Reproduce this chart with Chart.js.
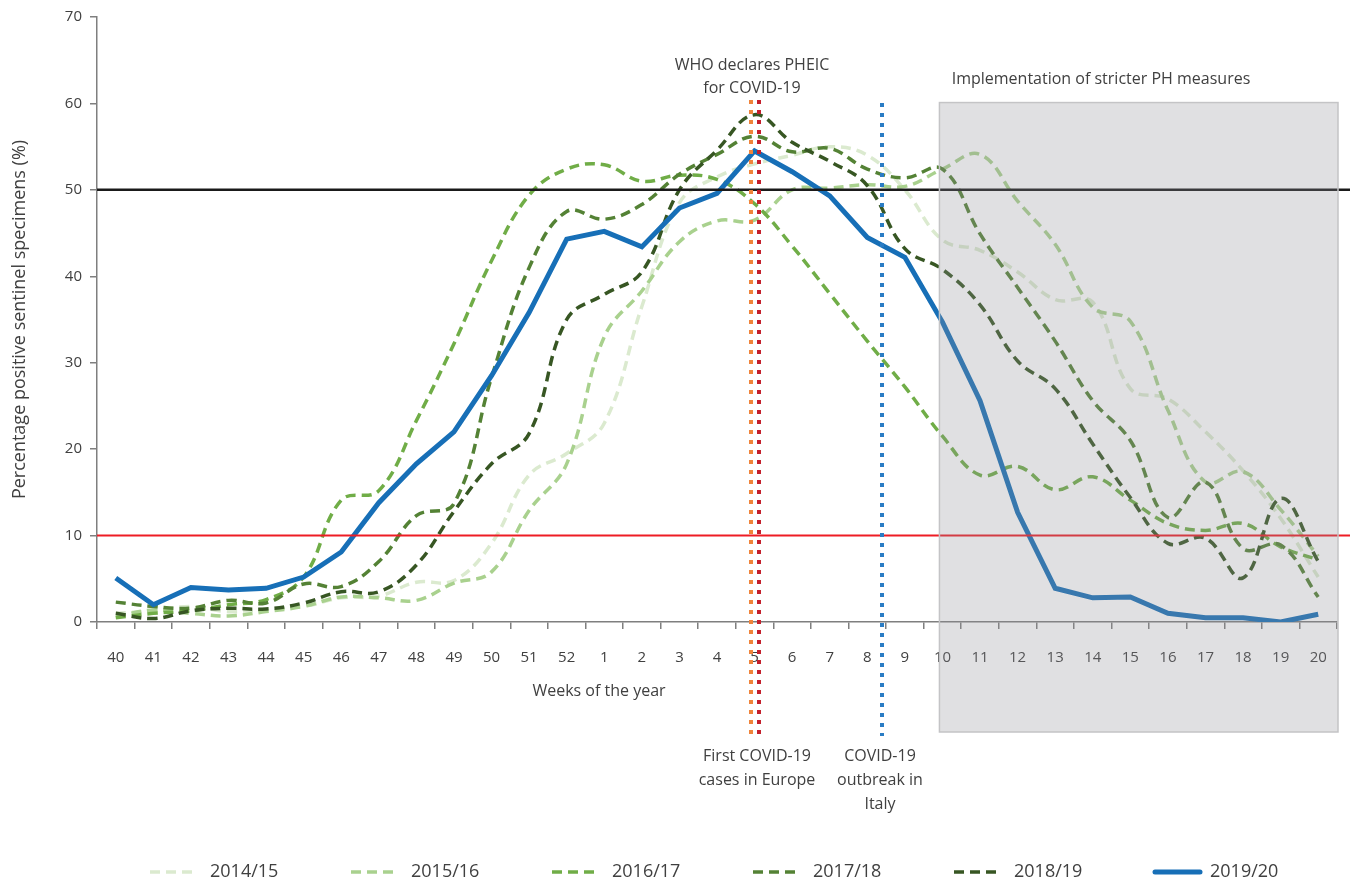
<!DOCTYPE html>
<html>
<head>
<meta charset="utf-8">
<script src="https://cdn.jsdelivr.net/npm/chart.js@4/dist/chart.umd.min.js"></script>
<style>
  body { margin: 0; background: #fff; }
  canvas { display: block; }
</style>
</head>
<body>
<canvas id="grafico" width="1357" height="886"></canvas>
<script>
// Semanas del año (eje x)
const semanas = ['40','41','42','43','44','45','46','47','48','49','50','51','52',
  '1','2','3','4','5','6','7','8','9','10','11','12','13','14','15','16','17','18','19','20'];

// Porcentaje de muestras centinela positivas por temporada
const t1415 = [1.0,1.3,1.8,1.2,1.5,1.8,2.8,3.0,4.6,4.8,9.1,17.0,19.5,23.0,36.5,48.5,51.5,53.0,54.0,55.0,54.0,50.0,44.2,43.0,40.5,37.3,37.0,27.0,25.8,22.0,17.5,12.0,5.2];
const t1516 = [0.6,1.4,1.0,0.7,1.2,1.8,2.9,2.8,2.5,4.5,5.8,12.9,18.3,33.0,38.3,44.0,46.4,46.5,50.0,50.2,50.6,50.4,52.4,54.1,48.7,43.7,36.4,34.8,24.5,16.2,17.4,13.0,7.6];
const t1617 = [0.5,1.0,1.3,2.0,2.6,5.2,14.1,15.2,23.3,32.2,41.8,49.4,52.4,52.9,51.0,51.7,51.2,48.4,43.5,38.0,32.5,27.2,21.5,17.0,18.0,15.3,16.8,14.1,11.4,10.6,11.4,8.7,7.2];
const t1718 = [2.3,1.8,1.6,2.5,2.2,4.4,4.1,7.0,12.3,13.7,28.3,41.0,47.5,46.6,48.3,51.8,54.1,56.2,54.4,54.8,52.4,51.4,52.4,44.9,38.7,32.5,25.6,21.0,12.1,16.2,8.5,8.9,2.9];
const t1819 = [1.0,0.4,1.3,1.6,1.5,2.2,3.5,3.5,6.6,12.8,18.3,21.8,35.0,37.9,40.5,50.0,54.6,58.7,55.5,53.3,50.5,43.2,40.8,36.7,30.2,27.0,20.6,14.4,9.1,9.7,5.1,14.3,7.0];
const t1920 = [5.1,2.0,4.0,3.7,3.9,5.2,8.1,13.8,18.3,22.0,28.5,35.8,44.3,45.2,43.4,47.9,49.6,54.5,52.1,49.3,44.5,42.2,34.7,25.6,12.7,3.9,2.8,2.9,1.0,0.5,0.5,0.0,0.9];

const temporadas = ['2014/15','2015/16','2016/17','2017/18','2018/19','2019/20'];
const colores = ['#dbeacf','#a9d18e','#70ad47','#548235','#375623','#176fb7'];

const FUENTE = "'Open Sans', 'Noto Sans', sans-serif";
const TEXTO = '#404040';

function serie(i, datos) {
    const actual = i === 5;
    return {
        label: temporadas[i],
        data: datos,
        borderColor: colores[i],
        borderWidth: actual ? 5 : 3.5,
        borderDash: actual ? [] : [10, 6],
        tension: actual ? 0 : 0.4,
        pointRadius: 0,
        fill: false,
        order: 5 - i
    };
}

// Anotaciones: umbrales, líneas de eventos, caja de medidas y leyenda
const anotaciones = {
    id: 'anotaciones',
    afterDatasetsDraw(chart) {
        const { ctx, chartArea: a, scales: { x, y } } = chart;
        ctx.save();

        // umbrales 50% y 10%
        ctx.lineWidth = 2.5;
        ctx.strokeStyle = '#1a1a1a';
        ctx.beginPath();
        ctx.moveTo(a.left, y.getPixelForValue(50));
        ctx.lineTo(1350, y.getPixelForValue(50));
        ctx.stroke();
        ctx.lineWidth = 2;
        ctx.strokeStyle = '#ee1c24';
        ctx.beginPath();
        ctx.moveTo(a.left, y.getPixelForValue(10));
        ctx.lineTo(1350, y.getPixelForValue(10));
        ctx.stroke();

        // líneas punteadas de eventos
        const vlinea = (v, color, y0, y1) => {
            const px = Math.round(x.getPixelForValue(v));
            ctx.strokeStyle = color;
            ctx.lineWidth = 4;
            ctx.setLineDash([4, 6]);
            ctx.beginPath();
            ctx.moveTo(px, y0);
            ctx.lineTo(px, y1);
            ctx.stroke();
        };
        vlinea(16.9, '#f0843a', 100, 736);
        vlinea(17.12, '#c4202c', 100, 736);
        vlinea(20.4, '#2a7cc4', 103, 736);
        ctx.setLineDash([]);

        // caja de medidas más estrictas
        const bx = x.getPixelForValue(21.92);
        const by = y.getPixelForValue(60.1);
        const bw = a.right + 1 - bx;
        const bh = 732 - by;
        ctx.fillStyle = 'rgba(142,142,150,0.28)';
        ctx.fillRect(bx, by, bw, bh);
        ctx.strokeStyle = '#c4c4c6';
        ctx.lineWidth = 1.5;
        ctx.strokeRect(bx, by, bw, bh);

        // textos
        ctx.fillStyle = TEXTO;
        ctx.font = '16px ' + FUENTE;
        ctx.textAlign = 'center';
        ctx.textBaseline = 'middle';
        ctx.fillText('WHO declares PHEIC', 752, 65);
        ctx.fillText('for COVID-19', 752, 88);
        ctx.fillText('Implementation of stricter PH measures', 1101, 79);
        ctx.fillText('First COVID-19', 757, 756);
        ctx.fillText('cases in Europe', 757, 780);
        ctx.fillText('COVID-19', 880, 756);
        ctx.fillText('outbreak in', 880, 780);
        ctx.fillText('Italy', 880, 804);
        ctx.fillText('Weeks of the year', 599, 691);

        // leyenda
        ctx.textAlign = 'left';
        ctx.font = '18px ' + FUENTE;
        chart.data.datasets.forEach((ds, i) => {
            const x0 = 150 + i * 201;
            ctx.strokeStyle = ds.borderColor;
            ctx.lineWidth = ds.borderWidth;
            ctx.setLineDash(ds.borderDash);
            ctx.lineCap = i === 5 ? 'round' : 'butt';
            ctx.beginPath();
            ctx.moveTo(x0, 872);
            ctx.lineTo(x0 + 45, 872);
            ctx.stroke();
            ctx.setLineDash([]);
            ctx.fillStyle = TEXTO;
            ctx.fillText(ds.label, x0 + (i === 5 ? 55 : 60), 872);
        });
        ctx.restore();
    }
};

new Chart(document.getElementById('grafico'), {
    type: 'line',
    data: {
        labels: semanas,
        datasets: [t1415, t1516, t1617, t1718, t1819, t1920].map((d, i) => serie(i, d))
    },
    options: {
        responsive: false,
        animation: false,
        layout: { padding: { left: 0, right: 20, top: 15, bottom: 0 } },
        plugins: {
            legend: { display: false },
            tooltip: { enabled: false }
        },
        scales: {
            x: {
                offset: true,
                afterFit: s => { s.height = 264; },
                border: { color: '#7f7f7f', width: 1.5 },
                grid: { offset: true, drawOnChartArea: false, tickLength: 7, color: '#7f7f7f', lineWidth: 1.5 },
                ticks: { color: TEXTO, font: { family: FUENTE, size: 15 }, padding: 20, maxRotation: 0, autoSkip: false }
            },
            y: {
                min: 0,
                max: 70,
                afterFit: s => { s.width = 97; },
                border: { color: '#7f7f7f', width: 1.5 },
                grid: { drawOnChartArea: false, tickLength: 7, color: '#7f7f7f', lineWidth: 1.5 },
                ticks: { stepSize: 10, color: TEXTO, font: { family: FUENTE, size: 15 }, padding: 8 },
                title: {
                    display: true,
                    text: 'Percentage positive sentinel specimens (%)',
                    color: TEXTO,
                    font: { family: FUENTE, size: 18 },
                    padding: { top: 9, bottom: 4 }
                }
            }
        }
    },
    plugins: [anotaciones]
});
</script>
</body>
</html>
